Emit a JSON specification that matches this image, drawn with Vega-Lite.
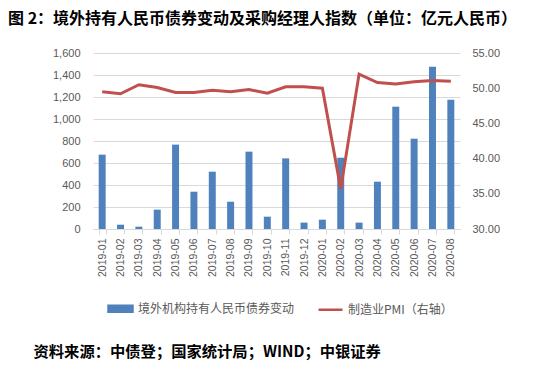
{
  "$schema": "https://vega.github.io/schema/vega-lite/v6.json",
  "width": 367,
  "height": 176,
  "autosize": {"type": "none"},
  "padding": {"left": 93, "top": 53, "right": 85, "bottom": 142},
  "background": "white",
  "config": {"view": {"stroke": null}, "font": "Noto Sans CJK SC"},
  "title": {
    "text": "图 2：境外持有人民币债券变动及采购经理人指数（单位：亿元人民币）",
    "anchor": "start", "frame": "group", "dx": -85, "offset": 20,
    "fontSize": 16, "fontWeight": "bold", "color": "#000000", "font": "Noto Sans CJK SC"
  },
  "data": {
    "values": [
      {"month": "2019-01", "flow": 676, "pmi": 49.5},
      {"month": "2019-02", "flow": 39, "pmi": 49.2},
      {"month": "2019-03", "flow": 21, "pmi": 50.5},
      {"month": "2019-04", "flow": 176, "pmi": 50.1},
      {"month": "2019-05", "flow": 767, "pmi": 49.4},
      {"month": "2019-06", "flow": 339, "pmi": 49.4},
      {"month": "2019-07", "flow": 521, "pmi": 49.7},
      {"month": "2019-08", "flow": 248, "pmi": 49.5},
      {"month": "2019-09", "flow": 703, "pmi": 49.8},
      {"month": "2019-10", "flow": 112, "pmi": 49.3},
      {"month": "2019-11", "flow": 642, "pmi": 50.2},
      {"month": "2019-12", "flow": 58, "pmi": 50.2},
      {"month": "2020-01", "flow": 85, "pmi": 50.0},
      {"month": "2020-02", "flow": 648, "pmi": 35.7},
      {"month": "2020-03", "flow": 58, "pmi": 52.0},
      {"month": "2020-04", "flow": 430, "pmi": 50.8},
      {"month": "2020-05", "flow": 1112, "pmi": 50.6},
      {"month": "2020-06", "flow": 821, "pmi": 50.9},
      {"month": "2020-07", "flow": 1476, "pmi": 51.1},
      {"month": "2020-08", "flow": 1176, "pmi": 51.0}
    ]
  },
  "encoding": {
    "x": {
      "field": "month", "type": "ordinal", "sort": null,
      "scale": {"paddingInner": 0.62, "paddingOuter": 0.31},
      "axis": {
        "labelAngle": 270, "labelFontSize": 10.5, "labelColor": "#595959", "labelFont": "Liberation Sans",
        "domainColor": "#d9d9d9", "tickColor": "#d9d9d9", "tickSize": 5, "tickBand": "extent",
        "labelPadding": 4,
        "title": "资料来源：中债登；国家统计局；WIND；中银证券",
        "titleX": -60, "titleY": 122, "titleAlign": "left", "titleBaseline": "middle", "titleAngle": 0,
        "titleFontSize": 15.3, "titleFontWeight": "bold", "titleColor": "#000000", "titleFont": "Noto Sans CJK SC"
      }
    }
  },
  "layer": [
    {
      "mark": {"type": "bar", "color": "#4f81bd"},
      "encoding": {
        "y": {
          "field": "flow", "type": "quantitative",
          "scale": {"domain": [0, 1600]},
          "axis": {
            "title": null, "values": [0, 200, 400, 600, 800, 1000, 1200, 1400, 1600], "format": ",d",
            "domain": false, "ticks": false, "labelPadding": 13, "labelFontSize": 11, "labelColor": "#595959",
            "labelFont": "Liberation Sans", "gridColor": "#d9d9d9", "grid": true
          }
        },
        "color": {
          "datum": "境外机构持有人民币债券变动",
          "scale": {"domain": ["境外机构持有人民币债券变动", "制造业PMI（右轴）"], "range": ["#4f81bd", "#c0504d"]},
          "legend": {
            "orient": "none", "legendX": 14, "legendY": 242, "direction": "horizontal", "title": null,
            "padding": 0, "symbolSize": 576, "labelFontSize": 12, "labelColor": "#595959",
            "labelFont": "Noto Sans CJK SC", "labelOffset": 4, "columnPadding": 18,
            "encode": {
              "symbols": {
                "update": {
                  "shape": {"signal": "datum.value === '境外机构持有人民币债券变动' ? 'M-1,-0.25H1V0.25H-1Z' : 'M-1,0H1'"},
                  "fill": {"signal": "datum.value === '境外机构持有人民币债券变动' ? '#4f81bd' : 'transparent'"},
                  "stroke": {"signal": "datum.value === '境外机构持有人民币债券变动' ? 'transparent' : '#c0504d'"},
                  "strokeWidth": {"value": 2.5}
                }
              }
            }
          }
        }
      }
    },
    {
      "mark": {"type": "line", "color": "#c0504d", "strokeWidth": 3},
      "encoding": {
        "y": {
          "field": "pmi", "type": "quantitative",
          "scale": {"domain": [30, 55]},
          "axis": {
            "orient": "right", "title": null, "values": [30, 35, 40, 45, 50, 55], "format": ".2f",
            "domain": false, "ticks": false, "grid": false, "labelPadding": 12, "labelFontSize": 11,
            "labelColor": "#595959", "labelFont": "Liberation Sans"
          }
        },
        "color": {"datum": "制造业PMI（右轴）"}
      }
    }
  ],
  "resolve": {"scale": {"y": "independent"}}
}
